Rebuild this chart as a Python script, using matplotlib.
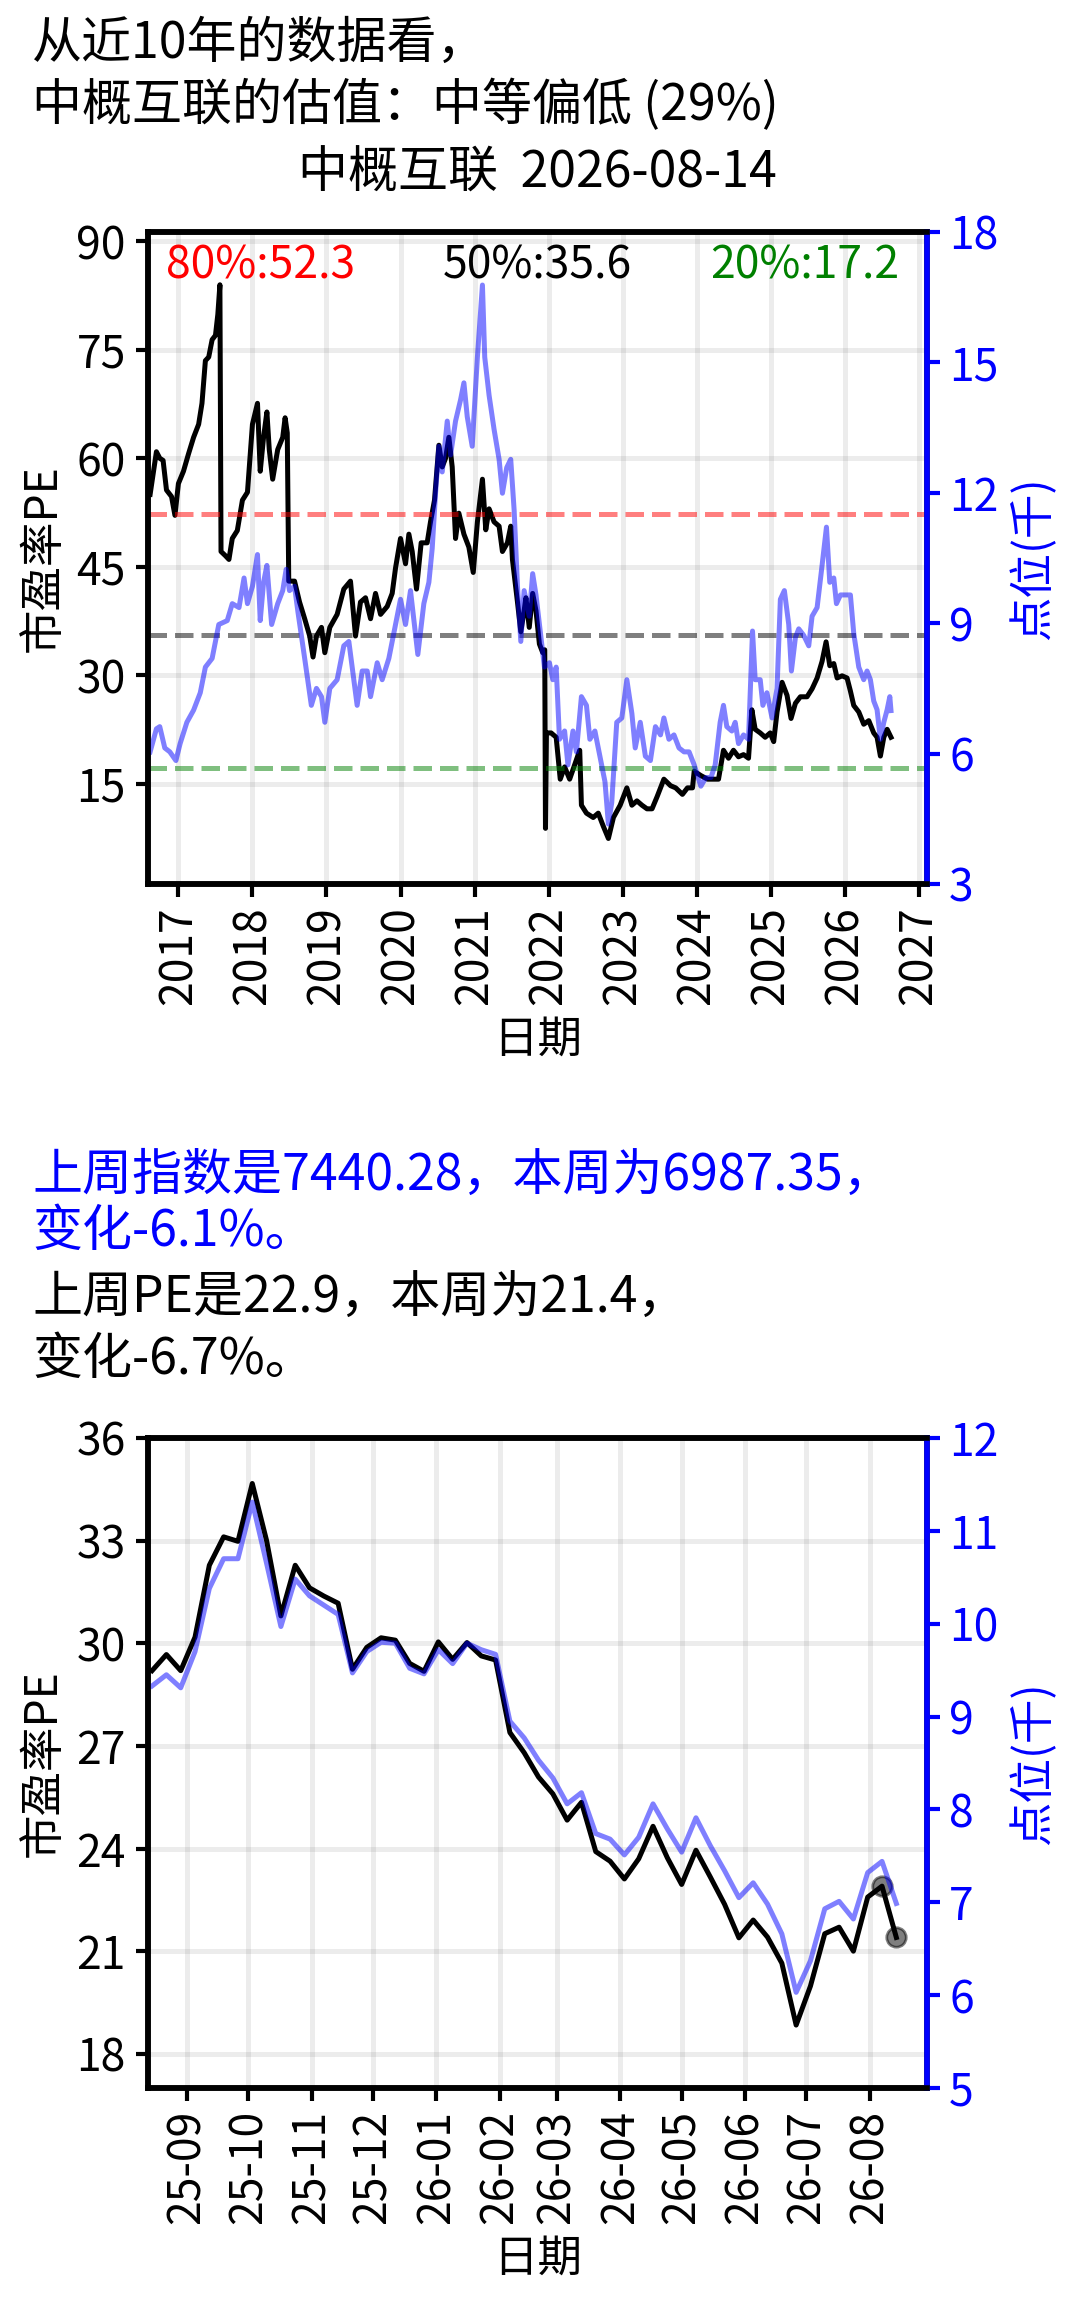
import numpy as np
import pandas as pd
import matplotlib
matplotlib.use('Agg')
import matplotlib.pyplot as plt
import matplotlib.dates as mdates
from matplotlib.ticker import MultipleLocator

plt.rcParams['font.family'] = ['Noto Sans CJK SC', 'DejaVu Sans']

#10 year history (decimal year, value)
pe_year = [2016.62, 2016.705, 2016.75, 2016.795, 2016.841, 2016.909, 2016.955, 2017.0, 2017.068, 2017.136,
           2017.205, 2017.273, 2017.318, 2017.364, 2017.409, 2017.455, 2017.5, 2017.532, 2017.56, 2017.575,
           2017.636, 2017.682, 2017.727, 2017.795, 2017.864, 2017.932, 2018.0, 2018.068, 2018.105, 2018.15,
           2018.195, 2018.227, 2018.273, 2018.341, 2018.409, 2018.441, 2018.47, 2018.49, 2018.568, 2018.636,
           2018.705, 2018.773, 2018.818, 2018.864, 2018.932, 2018.977, 2019.045,
           2019.144, 2019.234, 2019.324, 2019.392, 2019.459, 2019.527, 2019.595, 2019.662, 2019.73, 2019.82,
           2019.887, 2019.932, 2020.0, 2020.068, 2020.113, 2020.158, 2020.216, 2020.279, 2020.36, 2020.405,
           2020.459, 2020.518, 2020.563, 2020.608, 2020.653, 2020.698, 2020.743, 2020.788, 2020.856, 2020.923,
           2020.982, 2021.036, 2021.104, 2021.149, 2021.194, 2021.261, 2021.329, 2021.374, 2021.441, 2021.486,
           2021.509, 2021.577, 2021.622, 2021.667,
           2021.691, 2021.736, 2021.782, 2021.827, 2021.873, 2021.918, 2021.945, 2021.955, 2021.968, 2022.032,
           2022.1, 2022.155, 2022.214, 2022.282, 2022.35, 2022.418, 2022.441, 2022.509, 2022.6, 2022.668,
           2022.736, 2022.805, 2022.873, 2022.964, 2023.055, 2023.123, 2023.191, 2023.259, 2023.327, 2023.395,
           2023.464, 2023.555, 2023.645, 2023.714, 2023.805, 2023.873, 2023.941, 2023.964, 2024.055, 2024.145,
           2024.214, 2024.293, 2024.36, 2024.428, 2024.495, 2024.563, 2024.631, 2024.698, 2024.743, 2024.788,
           2024.856, 2024.923, 2024.991, 2025.036, 2025.081, 2025.149, 2025.216, 2025.27, 2025.329, 2025.396,
           2025.486, 2025.554, 2025.622, 2025.689, 2025.743, 2025.793, 2025.847, 2025.892, 2025.959, 2026.027,
           2026.072, 2026.117, 2026.185, 2026.252, 2026.32, 2026.387, 2026.432, 2026.477, 2026.523, 2026.568,
           2026.62]
pe_val = [55.0, 60.9, 60.0, 59.7, 55.6, 54.7, 52.1, 56.5, 58.2, 60.6,
          62.9, 64.7, 67.6, 73.5, 74.0, 76.4, 77.0, 79.9, 84.0, 47.1,
          46.5, 46.0, 48.9, 50.0, 54.2, 55.3, 64.7, 67.6, 58.2, 62.9,
          66.4, 61.2, 57.1, 61.2, 62.9, 65.6, 63.5, 43.0, 43.0, 40.1,
          37.8, 35.4, 32.5, 35.4, 36.6, 33.1, 36.6,
          38.4, 41.9, 43.0, 35.4, 40.1, 40.7, 37.8, 41.3, 38.4, 39.5,
          41.3, 44.8, 48.9, 45.4, 49.5, 47.1, 41.9, 48.3, 48.3, 51.2,
          54.2, 61.8, 58.8, 60.0, 62.9, 58.8, 48.9, 52.4, 49.5, 47.7,
          44.2, 51.2, 57.1, 50.1, 53.0, 51.2, 50.6, 47.1, 48.3, 50.6,
          46.0, 40.1, 36.0, 38.9,
          40.7, 36.6, 41.3, 38.9, 34.3, 33.1, 33.5, 8.8, 22.0, 22.0,
          21.4, 15.6, 17.3, 15.6, 17.6, 19.6, 12.0, 10.9, 10.3, 10.9,
          9.1, 7.4, 10.3, 12.0, 14.4, 12.0, 12.6, 12.0, 11.5, 11.5,
          13.2, 15.6, 14.7, 14.4, 13.5, 14.4, 14.4, 16.7, 16.1, 15.6,
          15.6, 15.6, 19.6, 18.5, 19.6, 18.7, 19.0, 18.5, 25.2, 22.5,
          22.0, 21.4, 22.0, 20.8, 24.9, 29.0, 27.2, 24.0, 26.1, 27.0,
          27.0, 28.1, 29.6, 31.9, 34.6, 31.3, 31.6, 29.6, 29.9, 29.6,
          27.8, 25.8, 24.9, 23.2, 23.7, 22.0, 21.4, 18.8, 21.4, 22.5,
          21.4]

idx_year = [2016.62, 2016.705, 2016.75, 2016.818, 2016.886, 2016.968, 2017.023, 2017.114, 2017.205, 2017.295,
            2017.364, 2017.455, 2017.545, 2017.659, 2017.727, 2017.818, 2017.886, 2017.932, 2018.0, 2018.068,
            2018.105, 2018.15, 2018.195, 2018.259, 2018.341, 2018.409, 2018.455, 2018.5, 2018.568, 2018.614,
            2018.705, 2018.795, 2018.864, 2018.932, 2018.977, 2019.045,
            2019.144, 2019.234, 2019.302, 2019.414, 2019.482, 2019.55, 2019.595, 2019.685, 2019.752, 2019.842,
            2019.932, 2020.0, 2020.068, 2020.135, 2020.234, 2020.315, 2020.383, 2020.428, 2020.473, 2020.518,
            2020.563, 2020.631, 2020.676, 2020.743, 2020.811, 2020.856, 2020.901, 2020.968, 2021.036, 2021.104,
            2021.135, 2021.194, 2021.261, 2021.329, 2021.374, 2021.432, 2021.486, 2021.532, 2021.577, 2021.622,
            2021.667,
            2021.736, 2021.782, 2021.827, 2021.895, 2021.941, 2022.009, 2022.055, 2022.1, 2022.145, 2022.214,
            2022.259, 2022.327, 2022.373, 2022.441, 2022.509, 2022.555, 2022.623, 2022.691, 2022.759, 2022.805,
            2022.85, 2022.918, 2022.986, 2023.055, 2023.123, 2023.168, 2023.236, 2023.305, 2023.373, 2023.441,
            2023.509, 2023.555, 2023.623, 2023.691, 2023.759, 2023.827, 2023.895, 2023.964, 2024.055, 2024.123,
            2024.191,
            2024.248, 2024.315, 2024.36, 2024.405, 2024.473, 2024.518, 2024.563, 2024.631, 2024.698, 2024.752,
            2024.788, 2024.856, 2024.892, 2024.946, 2025.014, 2025.081, 2025.126, 2025.18, 2025.239, 2025.275,
            2025.329, 2025.374, 2025.441, 2025.509, 2025.554, 2025.622, 2025.689, 2025.748, 2025.793, 2025.847,
            2025.883, 2025.937, 2026.005, 2026.072, 2026.117, 2026.185, 2026.252, 2026.297, 2026.342, 2026.387,
            2026.432, 2026.477, 2026.523, 2026.568, 2026.604, 2026.62]
idx_val = [6.04, 6.57, 6.62, 6.13, 6.04, 5.84, 6.23, 6.72, 7.0, 7.4,
           7.99, 8.19, 8.97, 9.06, 9.45, 9.36, 10.04, 9.45, 9.85, 10.58,
           9.06, 9.94, 10.33, 8.97, 9.45, 9.75, 10.24, 9.75, 9.85, 9.26,
           8.19, 7.11, 7.5, 7.31, 6.72, 7.5,
           7.7, 8.48, 8.58, 7.11, 7.9, 7.9, 7.31, 8.09, 7.7, 8.19,
           8.97, 9.55, 8.97, 9.75, 8.28, 9.45, 9.94, 10.72, 11.99, 13.07,
           12.48, 13.65, 12.87, 13.65, 14.14, 14.53, 13.75, 13.07, 15.12, 16.78,
           15.12, 14.24, 13.46, 12.77, 11.99, 12.58, 12.77, 11.6, 9.85, 8.58,
           9.75,
           9.16, 10.14, 9.65, 8.67, 7.99, 8.09, 7.7, 7.99, 6.33, 6.52,
           5.74, 6.52, 6.04, 7.31, 7.11, 6.33, 6.52, 5.94, 5.35, 4.38,
           4.87, 6.72, 6.82, 7.7, 6.92, 6.13, 6.72, 5.94, 5.84, 6.62,
           6.43, 6.82, 6.33, 6.43, 6.13, 6.04, 6.04, 5.74, 5.25, 5.45,
           5.45,
           5.74, 6.72, 7.11, 6.62, 6.52, 6.72, 6.23, 6.43, 6.33, 8.82,
           7.7, 7.7, 7.11, 7.4, 6.82, 7.5, 9.55, 9.75, 8.97, 7.9,
           8.67, 8.87, 8.72, 8.48, 9.16, 9.36, 10.33, 11.21, 9.94, 10.04,
           9.45, 9.65, 9.65, 9.65, 8.77, 7.99, 7.7, 7.9, 7.7, 7.21,
           7.01, 6.33, 6.72, 7.01, 7.31, 6.99]

pct80, pct50, pct20 = 52.3, 35.6, 17.2

#last year, weekly (fridays)
week_dates = pd.date_range('2025-08-15', '2026-08-14', freq='7D')
week_pe = [29.2, 29.67, 29.2, 30.18, 32.28, 33.11, 32.98, 34.67, 33.0, 30.8,
           32.28, 31.62, 31.38, 31.17, 29.24, 29.88, 30.16, 30.09, 29.41, 29.18,
           30.04, 29.53, 30.02, 29.63, 29.51, 27.39, 26.8, 26.09, 25.6, 24.83,
           25.35, 23.91, 23.63, 23.11, 23.7, 24.65, 23.73, 22.95, 23.95, 23.17,
           22.37, 21.39, 21.91, 21.41, 20.65, 18.84, 19.98, 21.51, 21.7, 21.0,
           22.58, 22.9, 21.4]
week_idx = [9.33, 9.45, 9.31, 9.70, 10.38, 10.70, 10.70, 11.31, 10.65, 9.97,
            10.48, 10.30, 10.20, 10.10, 9.47, 9.70, 9.80, 9.79, 9.52, 9.46,
            9.72, 9.57, 9.79, 9.72, 9.67, 8.95, 8.77, 8.53, 8.34, 8.06,
            8.18, 7.74, 7.68, 7.51, 7.70, 8.06, 7.79, 7.54, 7.91, 7.61,
            7.34, 7.05, 7.21, 6.98, 6.66, 6.03, 6.37, 6.93, 7.01, 6.82,
            7.32, 7.44028, 6.98735]


def to_date(y):
    y0 = int(y)
    return pd.Timestamp(year=y0, month=1, day=1) + pd.Timedelta(days=(y - y0) * 365.25)


pe_dates = [to_date(y) for y in pe_year]
idx_dates = [to_date(y) for y in idx_year]

FS = 18   #header / summary text
LS = 16   #axis labels
TS = 16   #tick labels
LW = 1.8

fig = plt.figure(figsize=(5.4, 11.515), dpi=200)

fig.text(32/1080, 1-44/2303, '从近10年的数据看，', fontsize=FS, va='center')
fig.text(32/1080, 1-106/2303, '中概互联的估值：中等偏低 (29%)', fontsize=FS, va='center')
fig.text(537/1080, 1-174/2303, '中概互联  2026-08-14', fontsize=FS, va='center', ha='center')


def style(ax, ax_r):
    for s in ax.spines.values():
        s.set_linewidth(2)
    for s in ax_r.spines.values():
        s.set_linewidth(2)
    ax_r.spines['right'].set_color('blue')
    ax.tick_params(labelsize=TS, length=4.5, width=1.5)
    ax_r.tick_params(labelsize=TS, length=4.5, width=1.5, colors='blue')
    ax.grid(True, color='gray', alpha=0.15, lw=1.8)
    ax.set_ylabel('市盈率PE', fontsize=LS)
    ax_r.set_ylabel('点位(千)', fontsize=LS, color='blue')
    ax.set_xlabel('日期', fontsize=LS)
    for lab in ax.get_xticklabels():
        lab.set_rotation(90)


#top chart
ax1 = fig.add_axes([148/1080, 1-884/2303, 779/1080, 652/2303])
ax2 = ax1.twinx()
ax1.plot(pe_dates, pe_val, color='black', lw=LW)
ax2.plot(idx_dates, idx_val, color='blue', alpha=0.5, lw=LW)
ax1.axhline(pct80, color='red', ls='--', alpha=0.5, lw=LW)
ax1.axhline(pct50, color='black', ls='--', alpha=0.5, lw=LW)
ax1.axhline(pct20, color='green', ls='--', alpha=0.5, lw=LW)
ax1.text(0.023, 0.949, f'80%:{pct80}', color='red', fontsize=TS, va='center', transform=ax1.transAxes)
ax1.text(0.5, 0.949, f'50%:{pct50}', color='black', fontsize=TS, va='center', ha='center', transform=ax1.transAxes)
ax1.text(0.965, 0.949, f'20%:{pct20}', color='green', fontsize=TS, va='center', ha='right', transform=ax1.transAxes)
ax1.set_ylim(1.1, 91.3)
ax2.set_ylim(3, 18)
ax1.yaxis.set_major_locator(MultipleLocator(15))
ax2.yaxis.set_major_locator(MultipleLocator(3))
ax1.set_xlim(pd.Timestamp('2016-08-04'), pd.Timestamp('2027-02-09'))
ax1.xaxis.set_major_locator(mdates.YearLocator())
ax1.xaxis.set_major_formatter(mdates.DateFormatter('%Y'))
style(ax1, ax2)

#middle text
fig.text(32/1080, 1-1176/2303, '上周指数是7440.28，本周为6987.35，', fontsize=FS, va='center', color='blue')
fig.text(32/1080, 1-1232/2303, '变化-6.1%。', fontsize=FS, va='center', color='blue')
fig.text(32/1080, 1-1299/2303, '上周PE是22.9，本周为21.4，', fontsize=FS, va='center')
fig.text(32/1080, 1-1360/2303, '变化-6.7%。', fontsize=FS, va='center')

#bottom chart
ax3 = fig.add_axes([148/1080, 1-2088/2303, 779/1080, 650/2303])
ax4 = ax3.twinx()
ax3.plot(week_dates, week_pe, color='black', lw=LW)
ax3.plot(week_dates[-2:], week_pe[-2:], 'o', color='black', alpha=0.5, ms=7)
ax4.plot(week_dates, week_idx, color='blue', alpha=0.5, lw=LW)
ax3.set_ylim(17, 36)
ax4.set_ylim(5, 12)
ax3.yaxis.set_major_locator(MultipleLocator(3))
ax4.yaxis.set_major_locator(MultipleLocator(1))
ax3.set_xlim(pd.Timestamp('2025-08-13'), pd.Timestamp('2026-08-29'))
ax3.xaxis.set_major_locator(mdates.MonthLocator())
ax3.xaxis.set_major_formatter(mdates.DateFormatter('%y-%m'))
style(ax3, ax4)

fig.savefig('out.png', dpi=200)
